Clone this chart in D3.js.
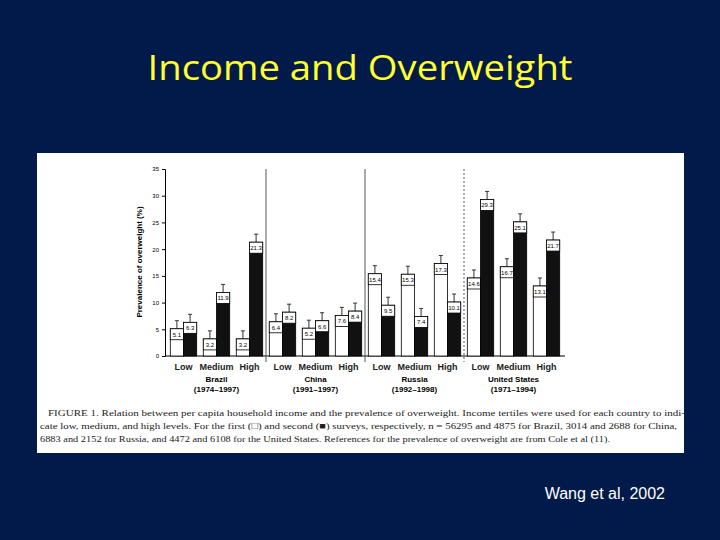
<!DOCTYPE html>
<html><head><meta charset="utf-8">
<script src="https://cdn.jsdelivr.net/npm/d3@7"></script>
<style>body{margin:0;background:#021a4a}</style>
</head><body>
<svg width="720" height="540"></svg>
<script>
const countries = ["Brazil", "China", "Russia", "United States"];
const years = ["(1974–1997)", "(1991–1997)", "(1992–1998)", "(1971–1994)"];
const levels = ["Low", "Medium", "High"];
const firstSurvey = [5.1, 3.2, 3.2, 6.4, 5.2, 7.6, 15.4, 15.3, 17.3, 14.6, 16.7, 13.1];
const secondSurvey = [6.3, 11.9, 21.3, 8.2, 6.6, 8.4, 9.5, 7.4, 10.1, 29.3, 25.1, 21.7];
const yTicks = [0, 5, 10, 15, 20, 25, 30, 35];
const caption = [
  "FIGURE 1. Relation between per capita household income and the prevalence of overweight. Income tertiles were used for each country to indi-",
  "cate low, medium, and high levels. For the first (\u25A1) and second (\u25A0) surveys, respectively, n = 56295 and 4875 for Brazil, 3014 and 2688 for China,",
  "6883 and 2152 for Russia, and 4472 and 6108 for the United States. References for the prevalence of overweight are from Cole et al (11)."
];

const svg = d3.select("svg");
svg.append("rect").attr("width", 720).attr("height", 540).attr("fill", "#021a4a");
svg.append("text").attr("x", 360).attr("y", 80).attr("text-anchor", "middle")
  .attr("font-family", "Open Sans").attr("font-size", 34).attr("fill", "#ffff33")
  .attr("textLength", 425).attr("lengthAdjust", "spacingAndGlyphs")
  .text("Income and Overweight");
svg.append("text").attr("x", 665).attr("y", 499).attr("text-anchor", "end")
  .attr("font-family", "Liberation Sans").attr("font-size", 16).attr("fill", "#fff")
  .text("Wang et al, 2002");

// white panel
svg.append("rect").attr("x", 37).attr("y", 153).attr("width", 647).attr("height", 300).attr("fill", "#fff");

const cats = d3.range(12);
const x = d3.scaleBand().domain(cats).range([167, 563]).paddingInner(0.2).paddingOuter(0.1);
const y = d3.scaleLinear().domain([0, 35]).range([356, 169]);
const g = svg.append("g");

g.append("g").attr("transform", "translate(165,0)")
  .call(d3.axisLeft(y).tickValues(yTicks).tickSize(3))
  .call(a => a.selectAll("text").attr("font-size", 6).attr("font-family", "Liberation Sans"));
g.append("line").attr("x1", 165).attr("x2", 565).attr("y1", 356).attr("y2", 356).attr("stroke", "#000");
g.append("text").attr("transform", "translate(142,262) rotate(-90)").attr("text-anchor", "middle")
  .attr("font-family", "Liberation Sans").attr("font-size", 8).attr("font-weight", "bold")
  .text("Prevalence of overweight (%)");

// group dividers
[3, 6, 9].forEach((i, k) => {
  const xv = x(i) - x.step() * x.paddingInner() / 2;
  g.append("line").attr("x1", xv).attr("x2", xv).attr("y1", 169).attr("y2", 362)
    .attr("stroke", "#555").attr("stroke-dasharray", k === 2 ? "2,2" : null);
});

const bw = x.bandwidth() / 2;
function bars(vals, off, fill) {
  cats.forEach(i => {
    const v = vals[i], bx = x(i) + off;
    g.append("line").attr("x1", bx + bw / 2).attr("x2", bx + bw / 2)
      .attr("y1", y(v)).attr("y2", y(v + 1.5)).attr("stroke", "#333");
    g.append("line").attr("x1", bx + bw / 2 - 2).attr("x2", bx + bw / 2 + 2)
      .attr("y1", y(v + 1.5)).attr("y2", y(v + 1.5)).attr("stroke", "#333");
    g.append("rect").attr("x", bx).attr("y", y(v)).attr("width", bw).attr("height", y(0) - y(v))
      .attr("fill", fill).attr("stroke", "#000").attr("stroke-width", 0.8);
    g.append("rect").attr("x", bx).attr("y", y(v)).attr("width", bw).attr("height", 11)
      .attr("fill", "#fff").attr("stroke", "#000").attr("stroke-width", 0.8);
    g.append("text").attr("x", bx + bw / 2).attr("y", y(v) + 8).attr("text-anchor", "middle")
      .attr("font-family", "Liberation Sans").attr("font-size", 6).text(v.toFixed(1));
  });
}
bars(firstSurvey, 0, "#fff");
bars(secondSurvey, bw, "#111");

cats.forEach(i => {
  g.append("text").attr("x", x(i) + x.bandwidth() / 2).attr("y", 370).attr("text-anchor", "middle")
    .attr("font-family", "Liberation Sans").attr("font-size", 9).attr("font-weight", "bold")
    .attr("fill", "#222").text(levels[i % 3]);
});
countries.forEach((c, k) => {
  const cx = x(k * 3 + 1) + x.bandwidth() / 2;
  g.append("text").attr("x", cx).attr("y", 382).attr("text-anchor", "middle")
    .attr("font-family", "Liberation Sans").attr("font-size", 8).attr("font-weight", "bold").text(c);
  g.append("text").attr("x", cx).attr("y", 392).attr("text-anchor", "middle")
    .attr("font-family", "Liberation Sans").attr("font-size", 8).attr("font-weight", "bold").text(years[k]);
});

caption.forEach((t, i) => {
  svg.append("text").attr("x", i === 0 ? 48 : 40).attr("y", 416 + i * 13)
    .attr("font-family", "Liberation Serif").attr("font-size", 9.2).attr("fill", "#222")
    .attr("textLength", i === 2 ? 570 : 637).attr("lengthAdjust", "spacingAndGlyphs").text(t);
});
</script>
</body></html>
